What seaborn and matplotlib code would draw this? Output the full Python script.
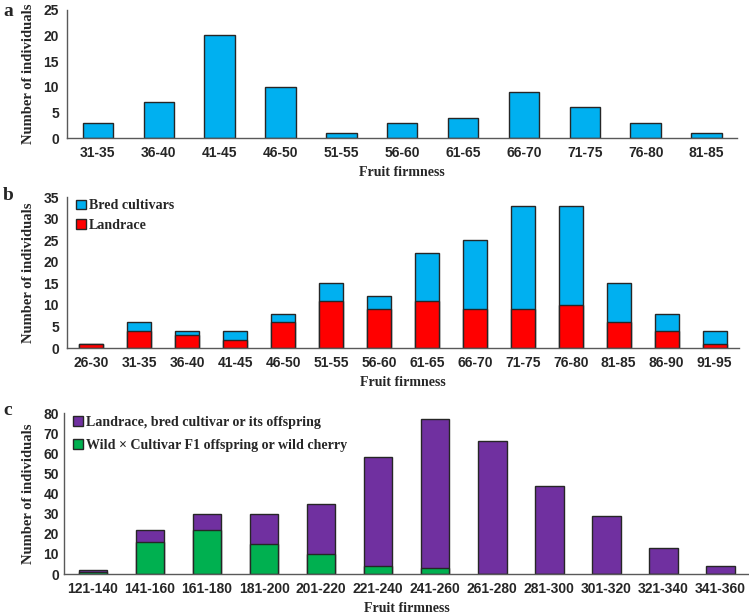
import numpy as np
import pandas as pd
import matplotlib.pyplot as plt
from matplotlib.patches import Patch
import seaborn as sns

# Panel a
cats_a = ["31-35", "36-40", "41-45", "46-50", "51-55", "56-60",
          "61-65", "66-70", "71-75", "76-80", "81-85"]
counts_a = [3, 7, 20, 10, 1, 3, 4, 9, 6, 3, 1]

# Panel b
cats_b = ["26-30", "31-35", "36-40", "41-45", "46-50", "51-55", "56-60",
          "61-65", "66-70", "71-75", "76-80", "81-85", "86-90", "91-95"]
landrace_b = [1, 4, 3, 2, 6, 11, 9, 11, 9, 9, 10, 6, 4, 1]
bred_b = [0, 2, 1, 2, 2, 4, 3, 11, 16, 24, 23, 9, 4, 3]

# Panel c
cats_c = ["121-140", "141-160", "161-180", "181-200", "201-220", "221-240",
          "241-260", "261-280", "281-300", "301-320", "321-340", "341-360"]
wild_c = [1, 16, 22, 15, 10, 4, 3, 0, 0, 0, 0, 0]
cultivar_c = [1, 6, 8, 15, 25, 54, 74, 66, 44, 29, 13, 4]

BLUE = "#00B0F0"
RED = "#FF0000"
PURPLE = "#7030A0"
GREEN = "#00B050"
EDGE = "#262626"

sns.set_style("white")
serif = ["Liberation Serif", "DejaVu Serif"]
sans = ["Liberation Sans", "DejaVu Sans"]

fig = plt.figure(figsize=(7.49, 6.14), dpi=100)
ax_a = fig.add_axes([0.090, 0.775, 0.894, 0.209])
ax_b = fig.add_axes([0.090, 0.433, 0.896, 0.246])
ax_c = fig.add_axes([0.086, 0.065, 0.914, 0.262])

bar_kw = dict(width=0.5, edgecolor=EDGE, linewidth=1.0, saturation=1)

# a
sns.barplot(x=cats_a, y=counts_a, color=BLUE, ax=ax_a, **bar_kw)

# b (stacked: totals drawn first, landrace on top of them)
total_b = np.array(landrace_b) + np.array(bred_b)
sns.barplot(x=cats_b, y=total_b, color=BLUE, ax=ax_b, **bar_kw)
sns.barplot(x=cats_b, y=landrace_b, color=RED, ax=ax_b, **bar_kw)

# c
total_c = np.array(wild_c) + np.array(cultivar_c)
sns.barplot(x=cats_c, y=total_c, color=PURPLE, ax=ax_c, **bar_kw)
sns.barplot(x=cats_c, y=wild_c, color=GREEN, ax=ax_c, **bar_kw)

for ax, n, ymax, step in [(ax_a, len(cats_a), 25, 5),
                          (ax_b, len(cats_b), 35, 5),
                          (ax_c, len(cats_c), 80, 10)]:
    ax.set_xlim(-0.5, n - 0.5)
    ax.set_ylim(0, ymax)
    ax.set_yticks(range(0, ymax + 1, step))
    for s in ["top", "right"]:
        ax.spines[s].set_visible(False)
    for s in ["left", "bottom"]:
        ax.spines[s].set_color("#595959")
        ax.spines[s].set_linewidth(1.0)
    ax.tick_params(length=0, pad=6)
    for lab in ax.get_xticklabels() + ax.get_yticklabels():
        lab.set_family(sans)
        lab.set_fontweight("bold")
        lab.set_fontsize(10)
    ax.set_xlabel("Fruit firmness", family=serif, fontweight="bold", fontsize=10, labelpad=4)
    ax.set_ylabel("Number of individuals", family=serif, fontweight="bold", fontsize=10.5, labelpad=6)

ax_c.tick_params(axis="y", pad=4)

leg_kw = dict(loc="upper left", frameon=False, handlelength=0.7, handleheight=0.7,
              handletextpad=0.25, borderaxespad=0.2,
              prop=dict(family=serif, weight="bold", size=10.1))
ax_b.legend(handles=[Patch(facecolor=BLUE, edgecolor=EDGE, label="Bred cultivars"),
                     Patch(facecolor=RED, edgecolor=EDGE, label="Landrace")],
            labelspacing=0.45, bbox_to_anchor=(0.0, 1.04), **leg_kw)
ax_c.legend(handles=[Patch(facecolor=PURPLE, edgecolor=EDGE,
                           label="Landrace, bred cultivar or its offspring"),
                     Patch(facecolor=GREEN, edgecolor=EDGE,
                           label="Wild \u00d7 Cultivar F1 offspring or wild cherry")],
            labelspacing=0.75, bbox_to_anchor=(0.0, 1.037), **leg_kw)

for letter, y in [("a", 0.995), ("b", 0.695), ("c", 0.345)]:
    fig.text(0.004, y, letter, family=serif, fontweight="bold", fontsize=14, va="top")

fig.savefig("out.png", dpi=100)
